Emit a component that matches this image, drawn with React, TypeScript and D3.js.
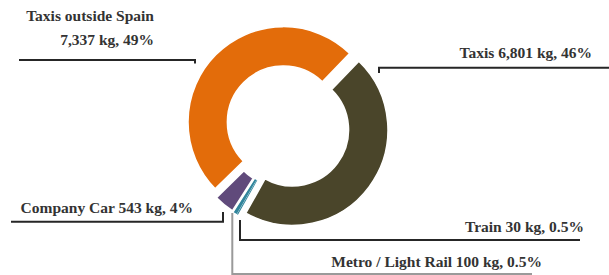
import React from "react";
import * as d3 from "d3";

const categories = ["Taxis", "Train", "Metro / Light Rail", "Company Car", "Taxis outside Spain"];
const valuesKg = [6801, 30, 100, 543, 7337];
const percentLabels = ["46%", "0.5%", "0.5%", "4%", "49%"];
const colors = ["#4a452a", "#31859c", "#31859c", "#604a7b", "#e36c0a"];

// label layout (annotation placement)
const labelLayout = [
  { lines: ["Taxis 6,801 kg, 46%"], x: 592, y: [57.7], leader: [[609, 67.7], [379, 67.7], [379, 73]] },
  { lines: ["Train 30 kg, 0.5%"], x: 584, y: [231.7], leader: [[240, 220], [240, 240], [580, 240]] },
  { lines: ["Metro / Light Rail 100 kg, 0.5%"], x: 542, y: [266.7], leader: [[232.3, 213], [232.3, 274], [532, 274]] },
  { lines: ["Company Car 543 kg, 4%"], x: 193, y: [213], leader: [[11, 221.7], [223, 221.7], [223, 212]] },
  { lines: ["Taxis outside Spain", "7,337 kg, 49%"], x: 154, y: [20.7, 45], leader: [[19, 60], [195, 60], [195, 63.5]] },
];

const W = 609;
const H = 275;
const cx = 287.7;
const cy = 126.3;
const outerR = 95.5;
const innerR = 56;
const explode = 6;
const startDeg = 44;
const strokeWidths = [1.6, 0, 0, 2.6, 1.6];

export default function App() {
  const idx = d3.range(valuesKg.length);
  const a0 = (startDeg * Math.PI) / 180;
  const pie = d3
    .pie<number>()
    .sort(null)
    .value((i) => valuesKg[i])
    .startAngle(a0)
    .endAngle(a0 + 2 * Math.PI);
  const arcs = pie(idx);
  const arcGen = d3.arc<d3.PieArcDatum<number>>().innerRadius(innerR).outerRadius(outerR);
  const drawOrder = [1, 2, 0, 4, 3];
  const line = d3.line();

  return (
    <svg width={W} height={H} style={{ position: "absolute", left: 0, top: 0, background: "#fff" }}>
      <g transform={`translate(${cx},${cy})`}>
        {drawOrder.map((k) => {
          const a = arcs[k];
          const mid = (a.startAngle + a.endAngle) / 2;
          const dx = explode * Math.sin(mid);
          const dy = -explode * Math.cos(mid);
          return (
            <path
              key={categories[k]}
              d={arcGen(a) || ""}
              transform={`translate(${dx},${dy})`}
              fill={colors[k]}
              stroke="#fff"
              strokeWidth={strokeWidths[k]}
              strokeLinejoin="round"
            />
          );
        })}
      </g>
      {labelLayout.map((l, i) => (
        <g key={i}>
          <path
            d={line(l.leader as [number, number][]) || ""}
            fill="none"
            stroke={i === 2 ? "#9a9a9a" : "#262626"}
            strokeWidth={2}
          />
          {l.lines.map((t, j) => (
            <text
              key={j}
              x={l.x}
              y={l.y[j]}
              textAnchor="end"
              fontFamily="'Liberation Serif', serif"
              fontWeight="bold"
              fontSize={15.5}
              fill="#333"
            >
              {t}
            </text>
          ))}
        </g>
      ))}
    </svg>
  );
}
